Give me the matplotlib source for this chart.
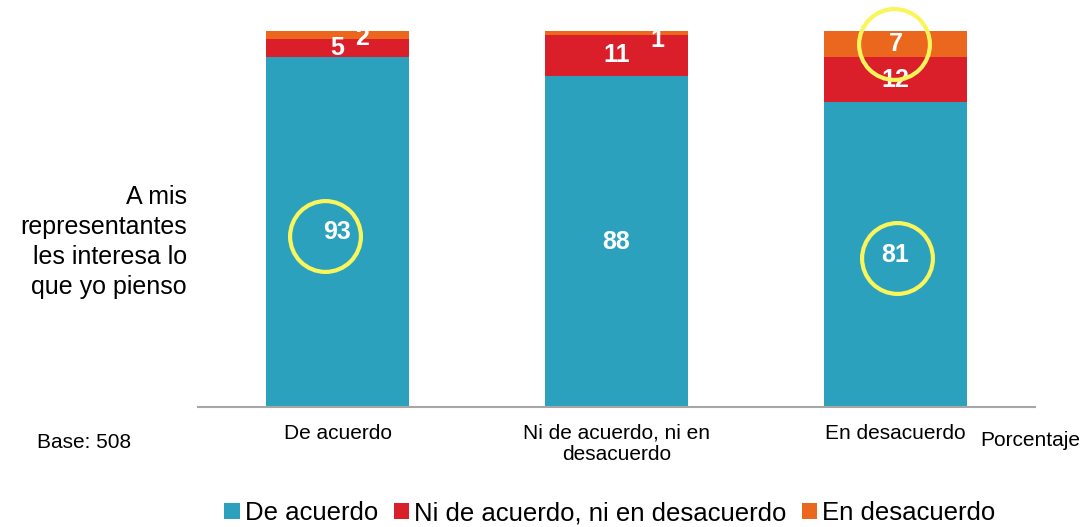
import numpy as np
import matplotlib.pyplot as plt
import matplotlib.transforms as mtransforms

plt.rcParams['font.family'] = ['Liberation Sans', 'DejaVu Sans']

# data
categories = ["De acuerdo", "Ni de acuerdo, ni en\ndesacuerdo", "En desacuerdo"]
series_names = ["De acuerdo", "Ni de acuerdo, ni en desacuerdo", "En desacuerdo"]
acuerdo = [93, 88, 81]
ni_ni = [5, 11, 12]
desacuerdo = [2, 1, 7]
colors = ["#2CA1BE", "#DA1F2A", "#EB671D"]
yellow = "#FBF55C"

fig = plt.figure(figsize=(10.92, 5.27), dpi=100)
ax = fig.add_axes([198 / 1092, 1 - 407 / 527, 837 / 1092, 376 / 527])

x = np.arange(len(categories))
width = 0.513
series = [acuerdo, ni_ni, desacuerdo]
bottom = np.zeros(len(categories))
for vals, col, name in zip(series, colors, series_names):
    ax.bar(x, vals, width, bottom=bottom, color=col, label=name, zorder=2)
    for i, v in enumerate(vals):
        cy = bottom[i] + v / 2
        cx = x[i]
        dy_pt = 0
        if v < 3:
            # tiny segment: label nudged to the right and down
            cx = x[i] + (0.088 if v == 2 else 0.145)
            dy_pt = -2 if v == 2 else -5
        t = mtransforms.offset_copy(ax.transData, fig=fig, x=0, y=dy_pt, units='points')
        ax.text(cx, cy, str(v), transform=t, ha='center', va='center',
                color='white', fontsize=18, fontweight='bold', zorder=4)
    bottom += np.array(vals)

# yellow highlight circles (bar index, series index, dx px, dy px)
highlights = [(0, 0, -13, -4), (2, 2, -2, 0), (2, 0, 1, -3)]
for bi, si, dx, dy in highlights:
    base = sum(series[k][bi] for k in range(si))
    cy = base + series[si][bi] / 2
    t = mtransforms.offset_copy(ax.transData, fig=fig, x=dx * 0.72, y=dy * 0.72, units='points')
    ax.plot([x[bi]], [cy], marker='o', ms=51, mfc='none', mec=yellow, mew=3,
            transform=t, clip_on=False, zorder=5)

ax.set_xlim(-0.5, 2.5)
ax.set_ylim(0, 100)
ax.set_yticks([])
ax.set_xticks(x)
ax.set_xticklabels(categories, fontsize=15, linespacing=1.15)
ax.tick_params(axis='x', length=0, pad=12)
for s in ['top', 'right', 'left']:
    ax.spines[s].set_visible(False)
ax.spines['bottom'].set_color('#A6A6A6')
ax.spines['bottom'].set_linewidth(1.5)

fig.text(187 / 1092, 1 - 242 / 527, "A mis\nrepresentantes\nles interesa lo\nque yo pienso",
         ha='right', va='center', fontsize=18, linespacing=1.3)
fig.text(37 / 1092, 1 - 443 / 527, "Base: 508", ha='left', va='center', fontsize=15)
fig.text(980 / 1092, 1 - 441 / 527, "Porcentaje", ha='left', va='center', fontsize=15)

fig.legend(loc='center', bbox_to_anchor=(610 / 1092, 1 - 513 / 527), ncol=3, frameon=False,
           fontsize=18.5, handlelength=0.6, handleheight=0.6, handletextpad=0.2,
           columnspacing=0.6, borderaxespad=0)

fig.savefig("out.png", dpi=100)
